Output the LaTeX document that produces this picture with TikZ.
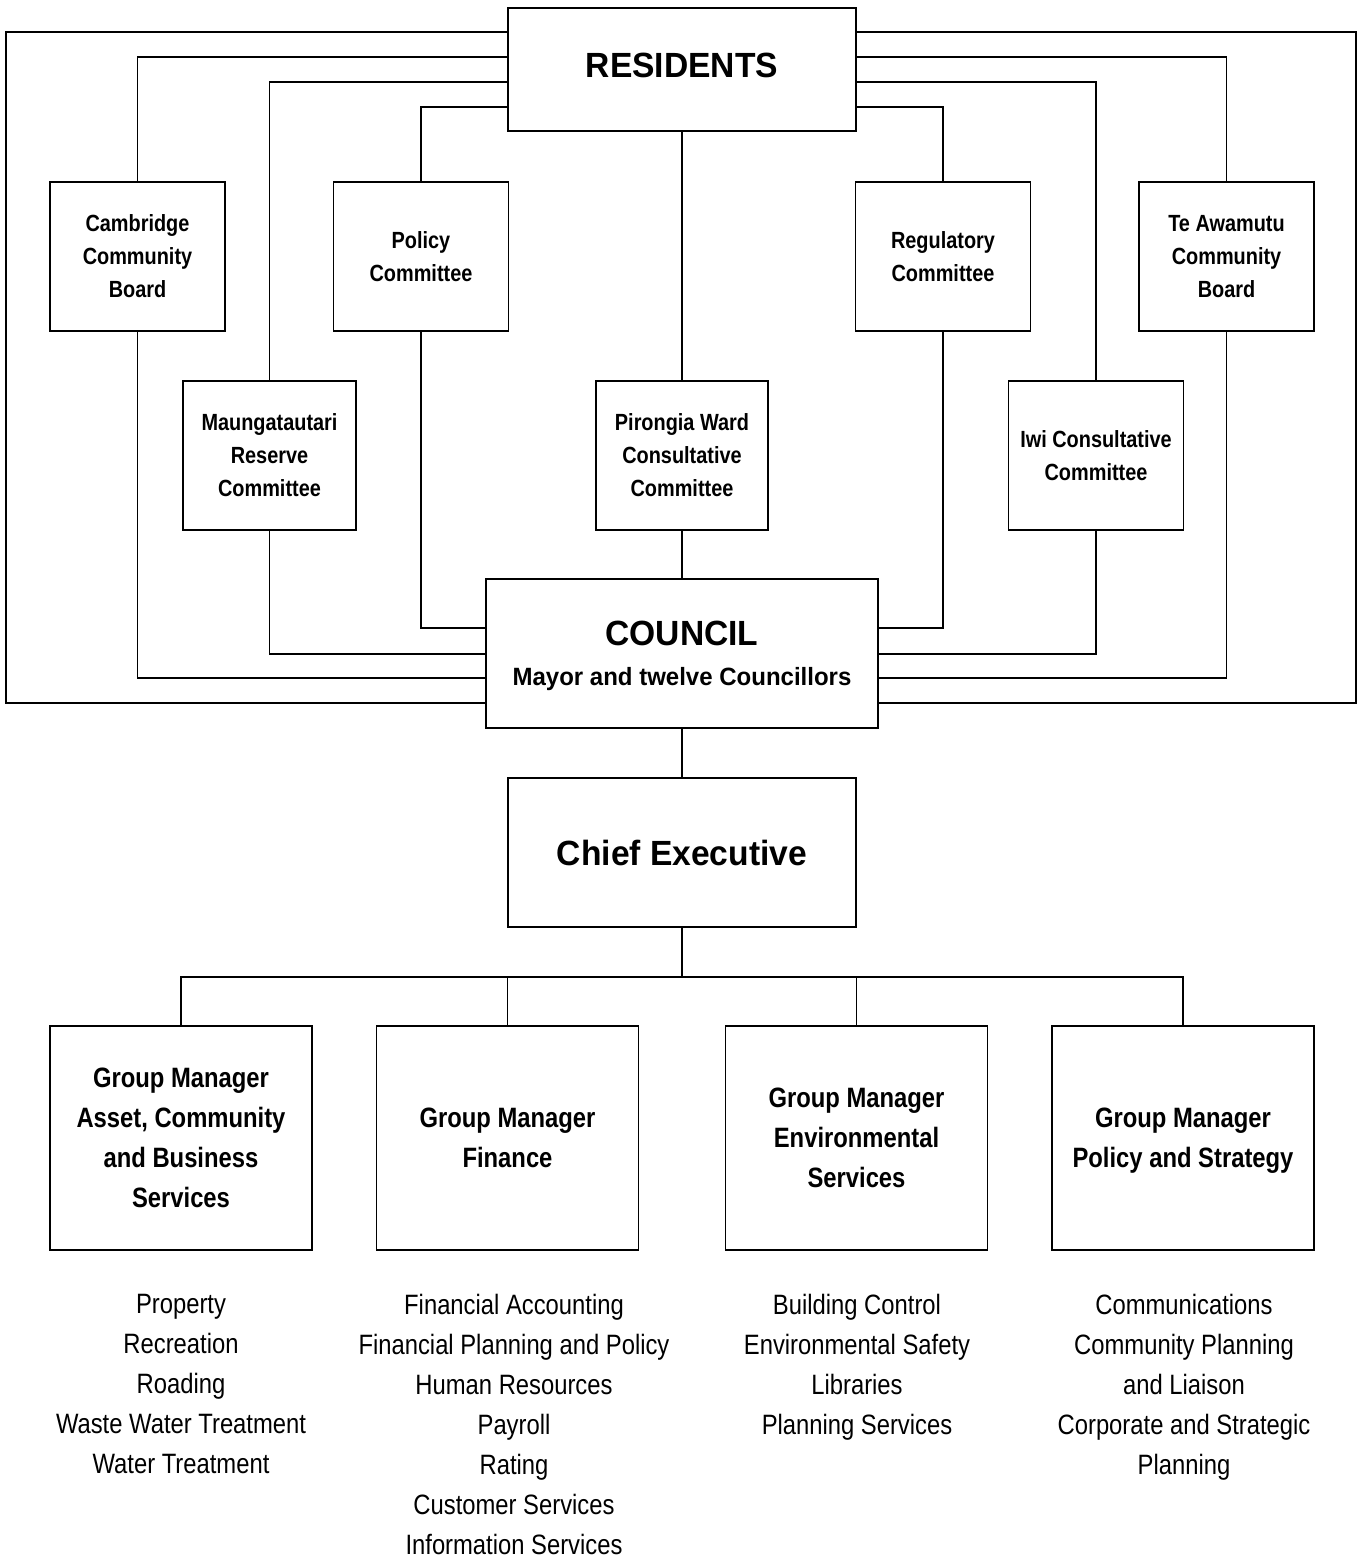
\documentclass[tikz,border=0pt]{standalone}
\usepackage{fontspec}
\setmainfont{Liberation Sans}
\newfontfamily\headfont[FakeStretch=0.96]{Liberation Sans}
\newfontfamily\narrowfont[FakeStretch=0.85]{Liberation Sans}

\begin{document}
\begin{tikzpicture}[x=1pt,y=-1pt,line width=1.6pt,
    box/.style={draw,inner sep=0pt,align=center},
    board/.style={box,minimum width=175pt,minimum height=149pt,
      font=\narrowfont\bfseries\fontsize{23.4}{33}\selectfont},
    head/.style={box,minimum width=348pt,minimum height=149pt,
      font=\headfont\bfseries\fontsize{35}{40.5}\selectfont},
    gm/.style={box,minimum width=262pt,minimum height=224pt,text depth=0pt,
      font=\narrowfont\bfseries\fontsize{28}{40}\selectfont},
    duties/.style={inner sep=0pt,align=center,text depth=0pt,
      font=\narrowfont\fontsize{28}{40}\selectfont}]
    \useasboundingbox (0,0) rectangle (1360,1558);

    \node[head,minimum height=123pt,text depth=8pt] (res) at (682,69.5) {RESIDENTS};

    \node[board] (cam) at (137.5,256.5) {Cambridge\\Community\\Board};
    \node[board] (pol) at (421,256.5) {Policy\\Committee};
    \node[board] (reg) at (943,256.5) {Regulatory\\Committee};
    \node[board] (tea) at (1226.5,256.5) {Te Awamutu\\Community\\Board};

    \node[board,minimum width=173pt] (maung) at (269.5,455.5) {Maungatautari\\Reserve\\Committee};
    \node[board,minimum width=172pt] (pir) at (682,455.5) {Pirongia Ward\\Consultative\\Committee};
    \node[board] (iwi) at (1096,455.5) {Iwi Consultative\\Committee};

    \node[head,minimum width=392pt,text depth=0pt] (coun) at (682,653.5)
      {COUNCIL\\{\fontsize{25}{40.5}\selectfont Mayor and twelve Councillors}};

    \node[head] (ce) at (682,852.5) {Chief Executive};

    \node[gm] (gm1) at (181,1138) {Group Manager\\Asset, Community\\and Business\\Services};
    \node[gm] (gm2) at (507.5,1138) {Group Manager\\Finance};
    \node[gm] (gm3) at (856.5,1138) {Group Manager\\Environmental\\Services};
    \node[gm] (gm4) at (1183,1138) {Group Manager\\Policy and Strategy};

    % duties
    \node[duties] (lst1) at (181,1384) {Property\\Recreation\\Roading\\Waste Water Treatment\\Water Treatment};
    \node[duties] (lst2) at (514,1424) {Financial Accounting\\Financial Planning and Policy\\Human Resources\\Payroll\\Rating\\Customer Services\\Information Services};
    \node[duties] (lst3) at (857,1364) {Building Control\\Environmental Safety\\Libraries\\Planning Services};
    \node[duties] (lst4) at (1184,1384) {Communications\\Community Planning\\and Liaison\\Corporate and Strategic\\Planning};

    \coordinate (fl) at (6,703);
    \coordinate (fr) at (1356,703);
    \coordinate (bus) at (682,977);

    % outer frame
    \draw (res.west |- 0,32) -| (fl) -- (coun.west |- fl);
    \draw (res.east |- 0,32) -| (fr) -- (coun.east |- fr);

    \foreach \comm/\lvl in {cam/57,maung/82,pol/107}
    \draw (res.west |- 0,\lvl) -| (\comm.north);
    \foreach \comm/\lvl in {tea/57,iwi/82,reg/107}
    \draw (res.east |- 0,\lvl) -| (\comm.north);

    \foreach \comm/\lvl in {cam/678,maung/654,pol/628}
    \draw (\comm.south) |- (coun.west |- 0,\lvl);
    \foreach \comm/\lvl in {tea/678,iwi/654,reg/628}
    \draw (\comm.south) |- (coun.east |- 0,\lvl);

    \draw (res.south) -- (pir.north);
    \draw (pir.south) -- (coun.north);
    \draw (coun.south) -- (ce.north);
    \draw (ce.south) -- (bus);

    \foreach \to in {gm1,gm2,gm3,gm4}
    \draw (bus) -| (\to.north);
  \end{tikzpicture}
\end{document}
